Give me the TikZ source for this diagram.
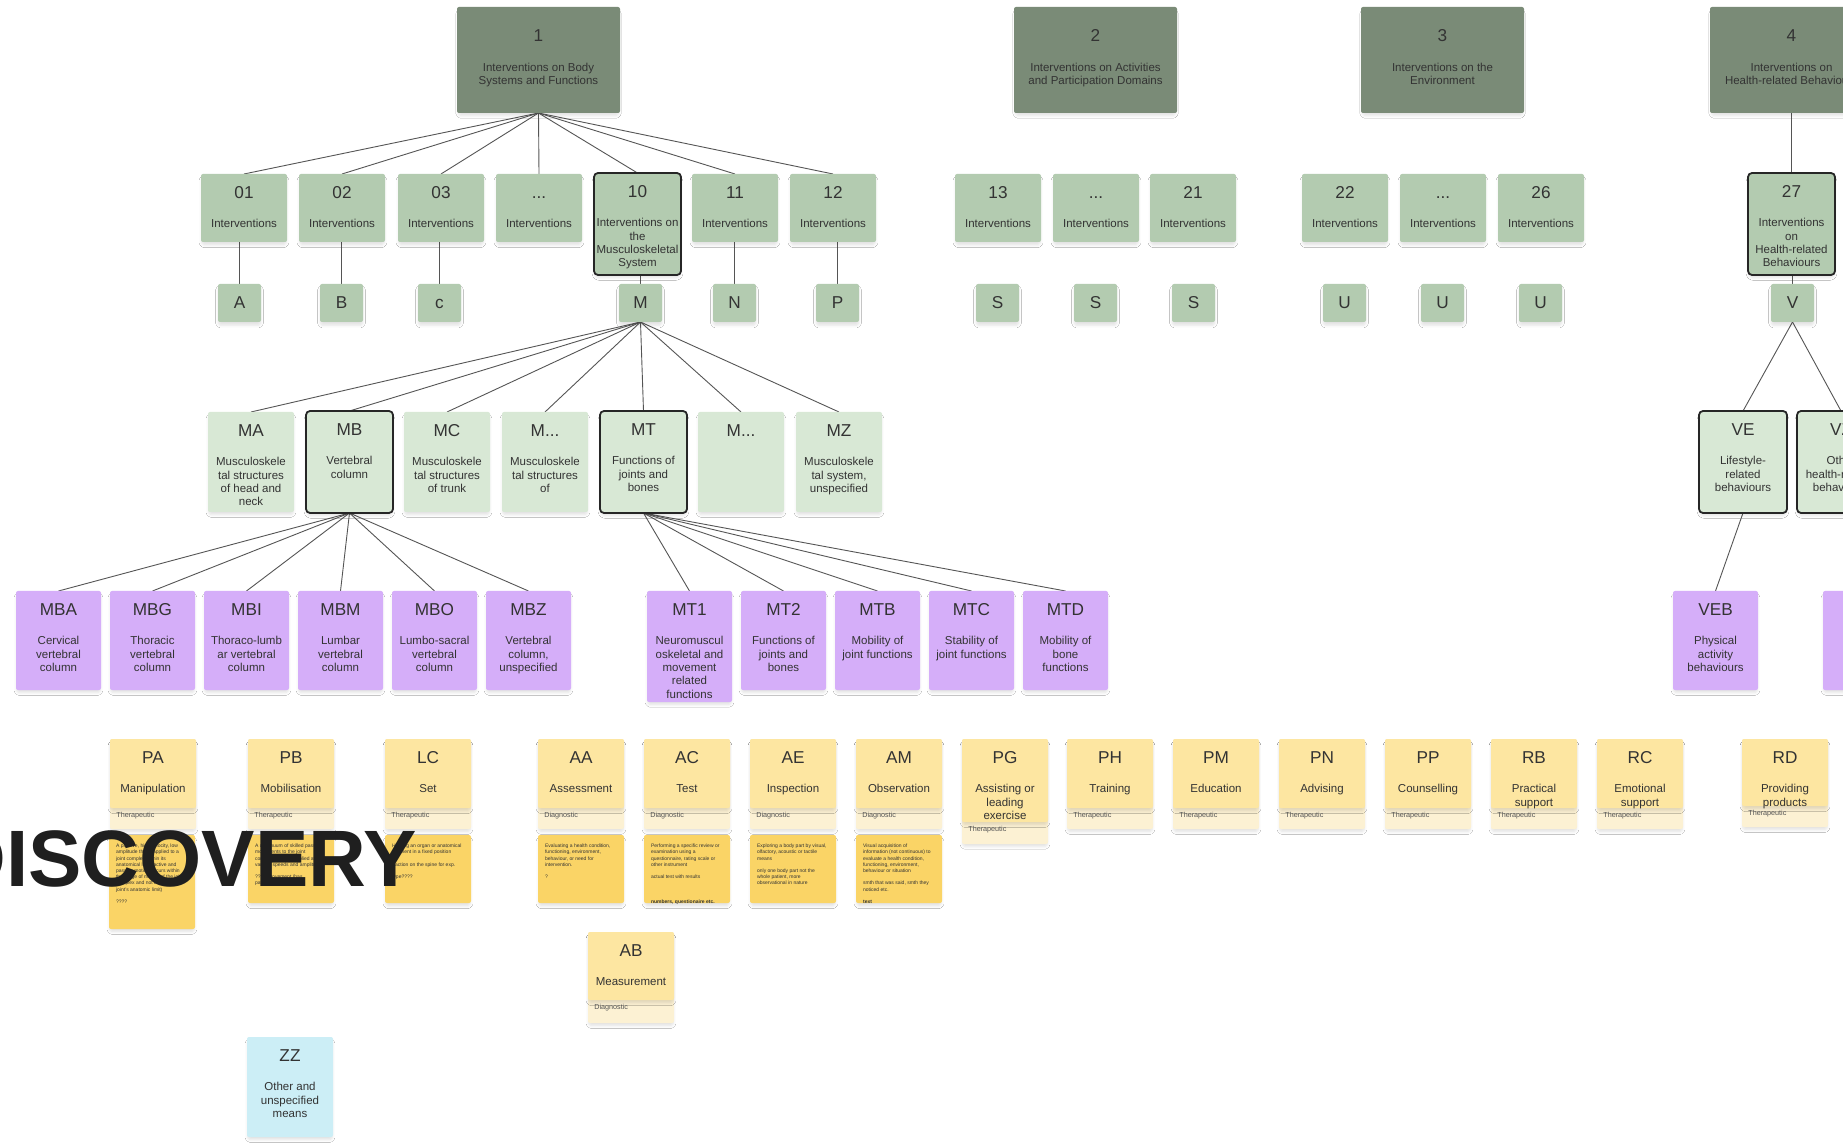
\documentclass[tikz,border=0pt]{standalone}
\usepackage{fontspec}
\setmainfont{Liberation Sans}
\usetikzlibrary{calc,shadows.blur}
\pgfdeclarelayer{bg}
\pgfdeclarelayer{paper}
\pgfsetlayers{paper,bg,main}

\definecolor{sagedk}{HTML}{7A8B77}
\definecolor{sage}{HTML}{B3CBB0}
\definecolor{sagelt}{HTML}{D8E8D5}
\definecolor{lilac}{HTML}{D5AEF9}
\definecolor{butter}{HTML}{FDE6A1}
\definecolor{cream}{HTML}{FCF1D3}
\definecolor{mustard}{HTML}{FAD466}
\definecolor{sky}{HTML}{CCEEF6}
\definecolor{ink}{HTML}{333333}
\definecolor{wire}{HTML}{555555}

\newcommand\fTitle{\fontsize{8.6pt}{10pt}\selectfont}
\newcommand\fBody{\fontsize{5.75pt}{6.67pt}\selectfont}
\newcommand\fTag{\fontsize{3.6pt}{4pt}\selectfont}
\newcommand\fDesc{\fontsize{2.5pt}{3.1pt}\selectfont}
\def\u{0.5pt}

\tikzset{
  card/.style={rounded corners=1pt, inner sep=0pt, outer sep=0pt,
    blur shadow={shadow xshift=0pt, shadow yshift=-1.8pt, shadow blur radius=1.4pt,
                 shadow blur steps=5, shadow opacity=12, shadow scale=0.98}},
  darkcard/.style={card, fill=sagedk},
  chapcard/.style={card, fill=sage},
  subcard/.style={card, fill=sagelt},
  leafcard/.style={card, fill=lilac},
  ycardst/.style={card, fill=butter},
  tagcard/.style={card, fill=cream},
  desccard/.style={card, fill=mustard},
  othercard/.style={card, fill=sky},
  picked/.style={draw=black!85, line width=0.9pt, rounded corners=2pt},
  ttl/.style={font=\fTitle, text=ink, inner sep=0pt},
  bdy/.style={font=\fBody, text=ink, align=center, inner sep=0pt},
  tagtxt/.style={font=\fTag, text=ink!85, inner sep=0pt},
  desctxt/.style={font=\fDesc, text=ink, align=left, inner sep=0pt},
  link/.style={draw=wire, line width=0.45pt},
}

% generic card: style, name, left, top, width, height, title, body
\newcommand\gcard[8]{%
  \node[#1, minimum width=#5*\u, minimum height=#6*\u, anchor=north west] (#2) at (#3,#4) {};
  \node[ttl, anchor=base] (#2-t) at ($(#2.north)+(0,24.5)$) {#7};
  \node[bdy, anchor=north] (#2-b) at ($(#2.north)+(0,44)$) {\strut#8};
}
% top-level card: name, left, title, body
\newcommand\topcard[4]{%
  \node[darkcard, minimum width=163*\u, minimum height=106*\u, anchor=north west] (#1) at (#2,7) {};
  \node[ttl, anchor=base] (#1-t) at ($(#1.north)+(0,34.5)$) {#3};
  \node[bdy, anchor=north] (#1-b) at ($(#1.north)+(0,54.5)$) {\strut#4};
}
% small letter card: name, left, letter
\newcommand\lcard[3]{%
  \node[chapcard, minimum width=43*\u, minimum height=38*\u, anchor=north west] (#1) at (#2,284) {};
  \node[ttl, anchor=base] (#1-t) at ($(#1.north)+(0,24.5)$) {#3};
}
% means card: name, left, top, card height, tag height, title, body, tag
\newcommand\ycard[8]{%
  \node[tagcard, minimum width=86*\u, minimum height=(#4+#5)*\u, anchor=north west] (#1-tag) at (#2,#3) {};
  \node[ycardst, minimum width=86*\u, minimum height=#4*\u, anchor=north west] (#1) at (#2,#3) {};
  \node[ttl, anchor=base] (#1-t) at ($(#1.north)+(0,24.5)$) {#6};
  \node[bdy, anchor=north] (#1-b) at ($(#1.north)+(0,44)$) {\strut#7};
  \node[tagtxt, anchor=base west] (#1-g) at ($(#1.south west)+(6,9.3)$) {#8};
}
% note card: name, left, top, height, text
\newcommand\note[5]{%
  \node[desccard, minimum width=86*\u, minimum height=#4*\u, anchor=north west] (#1) at (#2,#3) {};
  \node[desctxt, anchor=north west] (#1-x) at ($(#1.north west)+(6.7,8)$) {\strut#5};
}

\begin{document}
\begin{tikzpicture}[x=0.5pt,y=-0.5pt]
\useasboundingbox (0,0) rectangle (1843,1144);
\clip (0,0) rectangle (1843,1144);

% sections
\topcard{t1}{457}{1}{Interventions on Body\\Systems and Functions}
\topcard{t2}{1014}{2}{Interventions on Activities\\and Participation Domains}
\topcard{t3}{1361}{3}{Interventions on the\\Environment}
\topcard{t4}{1710}{4}{Interventions on\\Health-related Behaviours}

% chapters
\gcard{chapcard}{c01}{201}{174}{86}{68}{01}{Interventions}
\gcard{chapcard}{c02}{299}{174}{86}{68}{02}{Interventions}
\gcard{chapcard}{c03}{398}{174}{86}{68}{03}{Interventions}
\gcard{chapcard}{cdA}{496}{174}{86}{68}{...}{Interventions}
\gcard{chapcard,picked}{c10}{594}{173}{87}{102}{10}{Interventions on\\the\\Musculoskeletal\\System}
\gcard{chapcard}{c11}{692}{174}{86}{68}{11}{Interventions}
\gcard{chapcard}{c12}{790}{174}{86}{68}{12}{Interventions}
\gcard{chapcard}{c13}{955}{174}{86}{68}{13}{Interventions}
\gcard{chapcard}{cdB}{1053}{174}{86}{68}{...}{Interventions}
\gcard{chapcard}{c21}{1150}{174}{86}{68}{21}{Interventions}
\gcard{chapcard}{c22}{1302}{174}{86}{68}{22}{Interventions}
\gcard{chapcard}{cdC}{1400}{174}{86}{68}{...}{Interventions}
\gcard{chapcard}{c26}{1498}{174}{86}{68}{26}{Interventions}
\gcard{chapcard,picked}{c27}{1748}{173}{87}{102}{27}{Interventions\\on\\Health-related\\Behaviours}

% targets
\lcard{lA}{218}{A}
\lcard{lB}{320}{B}
\lcard{lc}{418}{c}
\lcard{lM}{619}{M}
\lcard{lN}{713}{N}
\lcard{lP}{816}{P}
\lcard{lSa}{976}{S}
\lcard{lSb}{1074}{S}
\lcard{lSc}{1172}{S}
\lcard{lUa}{1323}{U}
\lcard{lUb}{1421}{U}
\lcard{lUc}{1519}{U}
\lcard{lV}{1771}{V}

% second-level targets
\gcard{subcard}{mA}{208}{412}{86}{100}{MA}{Musculoskele\\tal structures\\of head and\\neck}
\gcard{subcard,picked}{mB}{306}{411}{87}{102}{MB}{Vertebral\\column}
\gcard{subcard}{mC}{404}{412}{86}{100}{MC}{Musculoskele\\tal structures\\of trunk}
\gcard{subcard}{mD}{502}{412}{86}{100}{M...}{Musculoskele\\tal structures\\of}
\gcard{subcard,picked}{mT}{600}{411}{87}{102}{MT}{Functions of\\joints and\\bones}
\gcard{subcard}{mE}{698}{412}{86}{100}{M...}{}
\gcard{subcard}{mZ}{796}{412}{86}{100}{MZ}{Musculoskele\\tal system,\\unspecified}
\gcard{subcard,picked}{vE}{1699}{411}{88}{102}{VE}{Lifestyle-\\related\\behaviours}
\gcard{subcard,picked}{vO}{1797}{411}{88}{102}{VZ}{Other\\health-related\\behaviours}

% third-level targets
\gcard{leafcard}{pBA}{16}{591}{85}{99}{MBA}{Cervical\\vertebral\\column}
\gcard{leafcard}{pBG}{110}{591}{85}{99}{MBG}{Thoracic\\vertebral\\column}
\gcard{leafcard}{pBI}{204}{591}{85}{99}{MBI}{Thoraco-lumb\\ar vertebral\\column}
\gcard{leafcard}{pBM}{298}{591}{85}{99}{MBM}{Lumbar\\vertebral\\column}
\gcard{leafcard}{pBO}{392}{591}{85}{99}{MBO}{Lumbo-sacral\\vertebral\\column}
\gcard{leafcard}{pBZ}{486}{591}{85}{99}{MBZ}{Vertebral\\column,\\unspecified}
\gcard{leafcard}{pT1}{647}{591}{85}{111}{MT1}{Neuromuscul\\oskeletal and\\movement\\related\\functions}
\gcard{leafcard}{pT2}{741}{591}{85}{99}{MT2}{Functions of\\joints and\\bones}
\gcard{leafcard}{pTB}{835}{591}{85}{99}{MTB}{Mobility of\\joint functions}
\gcard{leafcard}{pTC}{929}{591}{85}{99}{MTC}{Stability of\\joint functions}
\gcard{leafcard}{pTD}{1023}{591}{85}{99}{MTD}{Mobility of\\bone\\functions}
\gcard{leafcard}{pVEB}{1673}{591}{85}{99}{VEB}{Physical\\activity\\behaviours}
\node[leafcard, minimum width=85*\u, minimum height=99*\u, anchor=north west] (pX) at (1823,591) {};

% means
\ycard{yPA}{110}{739}{69}{21}{PA}{Manipulation}{Therapeutic}
\ycard{yPB}{248}{739}{69}{21}{PB}{Mobilisation}{Therapeutic}
\ycard{yLC}{385}{739}{69}{21}{LC}{Set}{Therapeutic}
\ycard{yAA}{538}{739}{69}{21}{AA}{Assessment}{Diagnostic}
\ycard{yAC}{644}{739}{69}{21}{AC}{Test}{Diagnostic}
\ycard{yAE}{750}{739}{69}{21}{AE}{Inspection}{Diagnostic}
\ycard{yAM}{856}{739}{69}{21}{AM}{Observation}{Diagnostic}
\ycard{yPG}{962}{739}{83}{22}{PG}{Assisting or\\leading\\exercise}{Therapeutic}
\ycard{yPH}{1067}{739}{69}{21}{PH}{Training}{Therapeutic}
\ycard{yPM}{1173}{739}{69}{21}{PM}{Education}{Therapeutic}
\ycard{yPN}{1279}{739}{69}{21}{PN}{Advising}{Therapeutic}
\ycard{yPP}{1385}{739}{69}{21}{PP}{Counselling}{Therapeutic}
\ycard{yRB}{1491}{739}{69}{21}{RB}{Practical\\support}{Therapeutic}
\ycard{yRC}{1597}{739}{69}{21}{RC}{Emotional\\support}{Therapeutic}
\ycard{yRD}{1742}{739}{67}{21}{RD}{Providing\\products}{Therapeutic}
\ycard{yAB}{588}{932}{68}{23}{AB}{Measurement}{Diagnostic}
\gcard{othercard}{zZZ}{247}{1037}{86}{100}{ZZ}{Other and\\unspecified\\means}

% notes under the means
\note{nPA}{109}{835}{94}{A passive, high velocity, low\\amplitude thrust applied to a\\joint complex within its\\anatomical limit (active and\\passive motion occurs within\\the range of motion of the joint\\complex and not beyond the\\joint's anatomic limit)\\~\\????}
\note{nPB}{248}{835}{68}{A continuum of skilled passive\\movements to the joint\\complex that are applied at\\varying speeds and amplitudes\\~\\???? movement (has\\patient}
\note{nLC}{385}{835}{68}{Holding an organ or anatomical\\segment in a fixed position\\~\\traction on the spine for exp.\\~\\type????}
\note{nAA}{538}{835}{68}{Evaluating a health condition,\\functioning, environment,\\behaviour, or need for\\intervention.\\~\\?}
\note{nAC}{644}{835}{68}{Performing a specific review or\\examination using a\\questionnaire, rating scale or\\other instrument\\~\\actual test with results\\~\\~\\~\\\textbf{numbers, questionaire etc.}}
\note{nAE}{750}{835}{68}{Exploring a body part by visual,\\olfactory, acoustic or tactile\\means\\~\\only one body part not the\\whole patient, more\\observational in nature}
\note{nAM}{856}{835}{68}{Visual acquisition of\\information (not continuous) to\\evaluate a health condition,\\functioning, environment,\\behaviour or situation\\~\\smth that was said, smth they\\noticed etc.\\~\\\textbf{text}}

% heading over the means
\node[font=\fontsize{40pt}{40pt}\selectfont\bfseries, text=black!88, anchor=base east, inner sep=0pt] (disc) at (417,886) {DISCOVERY};

% white sheet under everything
\begin{pgfonlayer}{paper}
  \fill[white] (0,0) rectangle (1843,1144);
\end{pgfonlayer}

% connectors
\begin{pgfonlayer}{bg}
  \foreach \k in {c01,c02,c03,cdA,c10,c11,c12}
    \draw[link] (t1.south) -- (\k.north);
  \foreach \a/\b in {c01/lA,c02/lB,c03/lc,c10/lM,c11/lN,c12/lP,c27/lV}
    \draw[link] (\b.north) -- (\b.north |- \a.south);
  \draw[link] (t4.south) -- (c27.north);
  \foreach \k in {mA,mB,mC,mD,mT,mE,mZ}
    \draw[link] (lM.south) -- (\k.north);
  \foreach \k in {pBA,pBG,pBI,pBM,pBO,pBZ}
    \draw[link] (mB.south) -- (\k.north);
  \foreach \k in {pT1,pT2,pTB,pTC,pTD}
    \draw[link] (mT.south) -- (\k.north);
  \draw[link] (lV.south) -- (vE.north);
  \draw[link] (lV.south) -- (vO.north);
  \draw[link] (vE.south) -- (pVEB.north);
\end{pgfonlayer}
\end{tikzpicture}
\end{document}
